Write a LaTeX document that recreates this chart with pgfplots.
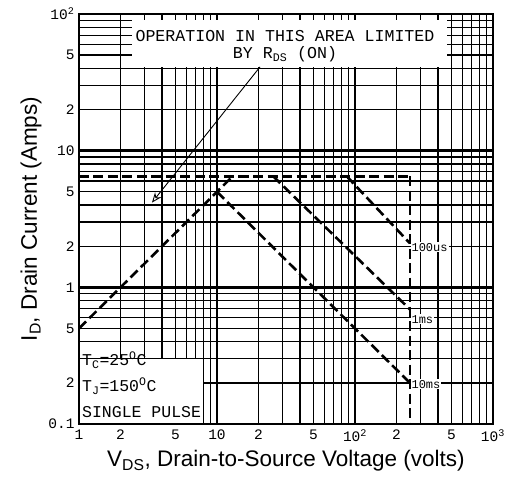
\documentclass[border=0pt]{standalone}
\usepackage{pgfplots}
\pgfplotsset{compat=1.18}
\usetikzlibrary{arrows.meta}
\usepackage{fontspec}
\setmainfont{Liberation Sans}
\newfontfamily\plotfont{Liberation Mono}
\begin{document}
\begin{tikzpicture}[x=1pt,y=1pt]
\useasboundingbox (-79,-65) rectangle (433,424);
\begin{axis}[
  at={(0,0)}, anchor=south west,
  scale only axis, width=414pt, height=410pt,
  xmode=log, ymode=log,
  xmin=1, xmax=1000, ymin=0.1, ymax=100,
  xtick={1,2,3,4,5,6,7,8,9,10,20,30,40,50,60,70,80,90,100,200,300,400,500,600,700,800,900,1000},
  xticklabels={1,2,{},{},5,{},{},{},{},10,2,{},{},5,{},{},{},{},10\textsuperscript{2},2,{},{},5,{},{},{},{},10\textsuperscript{3}},
  ytick={0.1,0.2,0.3,0.4,0.5,0.6,0.7,0.8,0.9,1,2,3,4,5,6,7,8,9,10,20,30,40,50,60,70,80,90,100},
  yticklabels={0.1,2,{},{},5,{},{},{},{},1,2,{},{},5,{},{},{},{},10,2,{},{},5,{},{},{},{},10\textsuperscript{2}},
  major tick length=0pt, minor tick length=0pt,
  grid=major,
  major grid style={black, line width=1.3pt},
  extra x ticks={10,100}, extra x tick labels={},
  extra y ticks={1,10}, extra y tick labels={},
  extra tick style={major grid style={black, line width=2.8pt}},
  axis line style={black, line width=1.8pt},
  tick label style={font=\plotfont\fontsize{14.5}{14.5}\selectfont, text=black},
  xticklabel style={yshift=-2pt},
  yticklabel style={xshift=-1pt},
  xlabel={V\textsubscript{DS}, Drain-to-Source Voltage (volts)},
  ylabel={I\textsubscript{D}, Drain Current (Amps)},
  label style={font=\fontsize{22.5}{22.5}\selectfont},
  xlabel style={yshift=-2pt},
  ylabel style={yshift=0pt},
  clip=false,
]
% white label backgrounds
\node[fill=white, inner sep=0pt, minimum width=123pt, minimum height=64pt, anchor=south west] at (axis cs:1,0.1) [xshift=1pt, yshift=1pt] {};
\node[fill=white, inner sep=0pt, minimum width=315pt, minimum height=47pt, anchor=north west] at (axis cs:2.42,90.4) {};
\node[font=\plotfont\fontsize{16.6}{17}\selectfont, align=center] at (axis cs:31.1,57.9)
  {OPERATION IN THIS AREA LIMITED\\BY R\textsubscript{DS} (ON)};
\node[font=\plotfont\fontsize{16.5}{21}\selectfont, align=left, anchor=south west, inner sep=0pt] at (axis cs:1,0.1) [xshift=3pt, yshift=6pt]
  {T\textsubscript{C}=25\textsuperscript{O}C\\[5pt]T\textsubscript{J}=150\textsuperscript{O}C\\[5pt]SINGLE PULSE};
% SOA boundaries
\addplot[black, line width=2.6pt, dash pattern=on 10pt off 4.5pt] coordinates {(1,0.5) (13,6.5)};
\addplot[black, line width=2.6pt, dash pattern=on 10pt off 4.5pt] coordinates {(1,6.5) (250,6.5)};
\addplot[black, line width=2.6pt, dash pattern=on 10pt off 4.5pt] coordinates {(250,6.5) (250,0.1)};
\addplot[black, line width=2.6pt, dash pattern=on 10pt off 4.5pt] coordinates {(87,6.5) (250,2.1)};
\addplot[black, line width=2.6pt, dash pattern=on 10pt off 4.5pt] coordinates {(25.5,6.5) (250,0.69)};
\addplot[black, line width=2.6pt, dash pattern=on 10pt off 4.5pt] coordinates {(10,5.0) (250,0.2)};
% arrow
\addplot[black, line width=0.9pt, -{Stealth[length=10pt,width=8pt,open]}] coordinates {(20.5,41) (3.38,4.17)};
% curve labels
\node[font=\plotfont\fontsize{12}{12}\selectfont, anchor=west, inner sep=1pt, fill=white] at (axis cs:252,1.96) {100us};
\node[font=\plotfont\fontsize{12}{12}\selectfont, anchor=west, inner sep=1pt, fill=white] at (axis cs:252,0.583) {1ms};
\node[font=\plotfont\fontsize{12}{12}\selectfont, anchor=west, inner sep=1pt, fill=white] at (axis cs:252,0.196) {10ms};
\end{axis}
\end{tikzpicture}
\end{document}
